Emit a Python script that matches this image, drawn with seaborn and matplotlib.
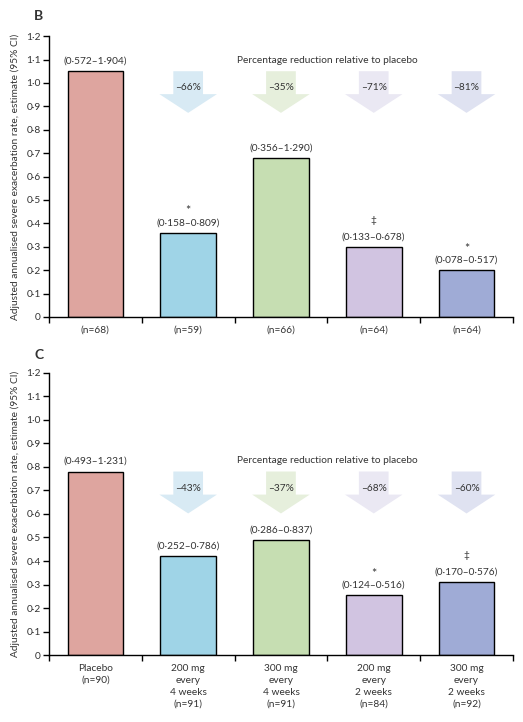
import numpy as np
import pandas as pd
import matplotlib
matplotlib.use("Agg")
import matplotlib.pyplot as plt
from matplotlib.patches import Polygon
import seaborn as sns

groups = ["Placebo", "200 mg q4w", "300 mg q4w", "200 mg q2w", "300 mg q2w"]
bar_colors = ["#dea59f", "#9fd4e7", "#c6deb2", "#d1c4e1", "#9fabd6"]
arrow_colors = ["#d8eaf4", "#e6efdc", "#eae8f3", "#dfe2f1"]

# Panel B
rate_b = [1.05, 0.36, 0.68, 0.30, 0.20]
ci_b = ["(0·572–1·904)", "(0·158–0·809)", "(0·356–1·290)", "(0·133–0·678)", "(0·078–0·517)"]
mark_b = ["", "*", "", "‡", "*"]
red_b = ["–66%", "–35%", "–71%", "–81%"]
xlab_b = ["(n=68)", "(n=59)", "(n=66)", "(n=64)", "(n=64)"]

# Panel C
rate_c = [0.78, 0.42, 0.49, 0.255, 0.31]
ci_c = ["(0·493–1·231)", "(0·252–0·786)", "(0·286–0·837)", "(0·124–0·516)", "(0·170–0·576)"]
mark_c = ["", "", "", "*", "‡"]
red_c = ["–43%", "–37%", "–68%", "–60%"]
xlab_c = ["Placebo\n(n=90)", "200 mg\nevery\n4 weeks\n(n=91)", "300 mg\nevery\n4 weeks\n(n=91)",
          "200 mg\nevery\n2 weeks\n(n=84)", "300 mg\nevery\n2 weeks\n(n=92)"]

yticks = [0, 0.1, 0.2, 0.3, 0.4, 0.5, 0.6, 0.7, 0.8, 0.9, 1.0, 1.1, 1.2]
ylabel = "Adjusted annualised severe exacerbation rate, estimate (95% CI)"

sns.set_theme(style="white")
plt.rcParams["font.family"] = ["Lato", "DejaVu Sans"]
TXT = "#333333"
FS = 7.3

fig = plt.figure(figsize=(5.23, 7.22), dpi=100)
ax_b = fig.add_axes([0.0937, 0.561, 0.887, 0.389])
ax_c = fig.add_axes([0.0937, 0.0924, 0.887, 0.3916])


def fmt(v):
    return "0" if v == 0 else f"{v:.1f}".replace(".", "·")


def draw(ax, rates, cis, marks, reds, xlabs, letter, ly):
    df = pd.DataFrame({"group": groups, "rate": rates})
    sns.barplot(data=df, x="group", y="rate", hue="group", palette=bar_colors,
                width=0.6, edgecolor="black", linewidth=1.0, legend=False,
                saturation=1, ax=ax)
    ax.set_xlim(-0.5, 4.5)
    ax.set_ylim(0, 1.2)
    for s in ["top", "right"]:
        ax.spines[s].set_visible(False)
    for s in ["left", "bottom"]:
        ax.spines[s].set_color("black")
        ax.spines[s].set_linewidth(1.0)
    ax.set_yticks(yticks)
    ax.set_yticklabels([fmt(v) for v in yticks], fontsize=FS, color=TXT)
    ax.set_xticks(range(5))
    ax.set_xticklabels(xlabs, fontsize=FS, color=TXT, linespacing=1.45)
    ax.set_xticks(np.arange(-0.5, 5, 1), minor=True)
    ax.tick_params(axis="x", which="major", length=0, pad=6)
    ax.tick_params(axis="x", which="minor", length=4, width=1, color="black", direction="out", bottom=True)
    ax.tick_params(axis="y", length=4, width=1, color="black", direction="out", left=True, pad=2)
    ax.set_xlabel("")
    ax.set_ylabel(ylabel, fontsize=FS, color=TXT, labelpad=4)
    ax.grid(False)

    for i, (r, c, m) in enumerate(zip(rates, cis, marks)):
        ax.annotate(c, (i, r), xytext=(0, 4), textcoords="offset points",
                    ha="center", va="bottom", fontsize=FS, color=TXT)
        if m:
            off = 15.5 if m == "*" else 19
            ax.annotate(m, (i, r), xytext=(0, off), textcoords="offset points",
                        ha="center", va="center", fontsize=9 if m == "*" else FS, color=TXT)

    top = rates[0]
    for j, (txt, col) in enumerate(zip(reds, arrow_colors)):
        x = j + 1
        sw, hw = 0.16, 0.31
        ys, yt = top - 0.098, top - 0.178
        poly = Polygon([(x - sw, top), (x + sw, top), (x + sw, ys), (x + hw, ys),
                        (x, yt), (x - hw, ys), (x - sw, ys)], closed=True,
                       facecolor=col, edgecolor="none", zorder=1)
        ax.add_patch(poly)
        ax.text(x, top - 0.07, txt, ha="center", va="center", fontsize=FS, color=TXT, zorder=2)
    ax.text(2.5, top + 0.045, "Percentage reduction relative to placebo",
            ha="center", va="center", fontsize=FS, color=TXT)
    ax.text(-0.032, ly, letter, transform=ax.transAxes, fontsize=10,
            fontweight="bold", color=TXT, ha="left", va="center")


draw(ax_b, rate_b, ci_b, mark_b, red_b, xlab_b, "B", 1.071)
draw(ax_c, rate_c, ci_c, mark_c, red_c, xlab_c, "C", 1.063)

fig.savefig("out.png", dpi=100)
